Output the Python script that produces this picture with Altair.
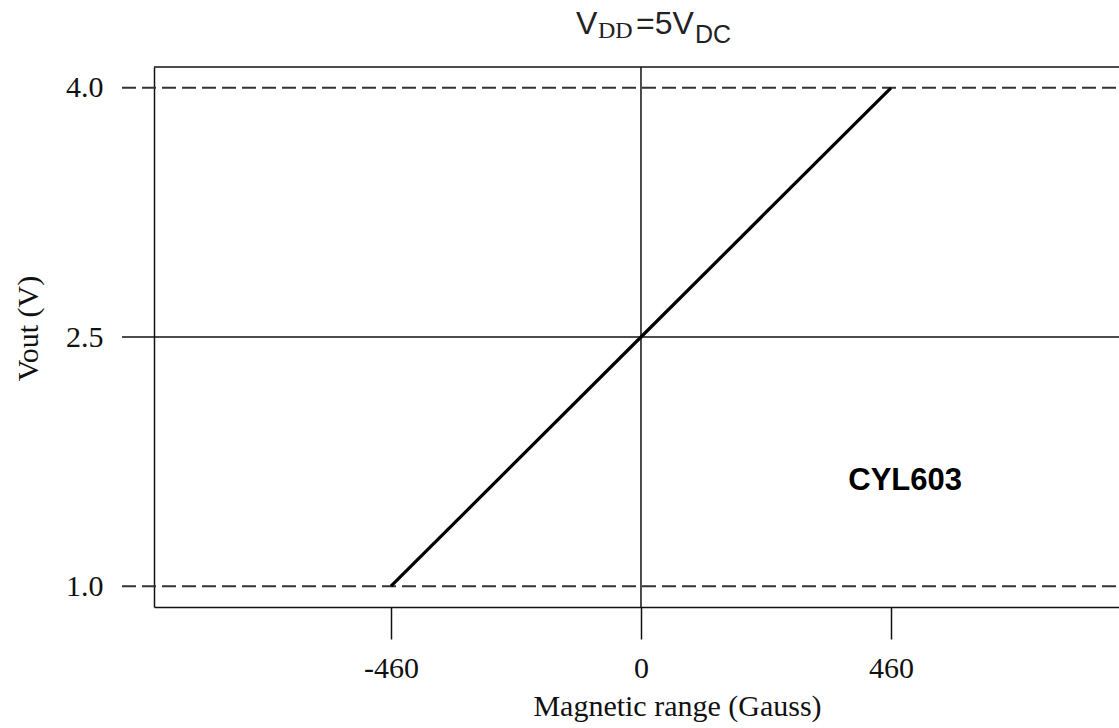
import altair as alt
import pandas as pd

# Transfer characteristic of the CYL603 linear Hall sensor at VDD = 5 VDC
field_gauss = [-460, 0, 460]
vout_v = [1.0, 2.5, 4.0]

# Reference output levels (saturation limits dashed, quiescent level solid)
dashed_levels = [1.0, 4.0]
solid_levels = [2.5]

x_ticks = [-460, 0, 460]
y_ticks = [1.0, 2.5, 4.0]

W, H = 965, 540
SERIF = "Liberation Serif"
SANS = "Liberation Sans"
INK = "#111111"

curve = pd.DataFrame({"gauss": field_gauss, "vout": vout_v})
dashed = pd.DataFrame({"level": dashed_levels})
solid = pd.DataFrame({"level": solid_levels})

x_scale = alt.Scale(domain=[-896, 879.5], nice=False, zero=False)
y_scale = alt.Scale(domain=[0.875, 4.125], nice=False, zero=False)

x_axis = alt.Axis(
    values=x_ticks, title="Magnetic range (Gauss)", grid=False,
    domainColor=INK, domainWidth=1.5, tickColor=INK, tickWidth=1.5, tickSize=32,
    labelFont=SERIF, labelFontSize=30, labelColor=INK, labelPadding=14,
    labelFlush=False, labelExpr="datum.value",
    titleFont=SERIF, titleFontSize=30, titleFontWeight="normal", titleColor=INK,
    titleX=523, titleY=108, titleAlign="center", titleBaseline="alphabetic",
)
y_axis = alt.Axis(
    values=y_ticks, title="Vout (V)", grid=False, format=".1f",
    domainColor=INK, domainWidth=1.5, ticks=False, tickSize=0,
    labelFont=SERIF, labelFontSize=30, labelColor=INK, labelPadding=51,
    labelBaseline="middle",
    titleFont=SERIF, titleFontSize=30, titleFontWeight="normal", titleColor=INK,
    titleAngle=-90, titleX=-117, titleY=261, titleAlign="center",
    titleBaseline="alphabetic",
)

# Sensor output line
line = alt.Chart(curve).mark_line(color="black", strokeWidth=3.2).encode(
    x=alt.X("gauss:Q", scale=x_scale, axis=x_axis),
    y=alt.Y("vout:Q", scale=y_scale, axis=y_axis),
)

# Limit lines, running out past the left frame as tick marks
dash_rules = alt.Chart(dashed).mark_rule(
    color="#333333", strokeWidth=2, strokeDash=[14, 6]
).encode(y=alt.Y("level:Q", scale=y_scale), x=alt.value(-32), x2=alt.value(W))

solid_rules = alt.Chart(solid).mark_rule(color=INK, strokeWidth=1.5).encode(
    y=alt.Y("level:Q", scale=y_scale), x=alt.value(-32), x2=alt.value(W)
)

# Zero-field axis line
zero_rule = alt.Chart(pd.DataFrame({"g": [0]})).mark_rule(
    color=INK, strokeWidth=1.5
).encode(x=alt.X("g:Q", scale=x_scale))

# Top frame edge
top_edge = alt.Chart(pd.DataFrame({"k": [0]})).mark_rule(
    color=INK, strokeWidth=1.5
).encode(y=alt.value(0), x=alt.value(0), x2=alt.value(W))

# Part number label
part = alt.Chart(pd.DataFrame({"gauss": [486], "vout": [1.58], "t": ["CYL603"]})).mark_text(
    font=SANS, fontSize=31, fontWeight="bold", color="black",
    align="center", baseline="alphabetic",
).encode(
    x=alt.X("gauss:Q", scale=x_scale),
    y=alt.Y("vout:Q", scale=y_scale),
    text="t:N",
)

# Heading V_DD = 5 V_DC built from pieces with subscripts
def piece(txt, x, y, font, size):
    return alt.Chart(pd.DataFrame({"t": [txt]})).mark_text(
        font=font, fontSize=size, color="#222222", align="left", baseline="alphabetic"
    ).encode(x=alt.value(x), y=alt.value(y), text="t:N")

heading = (
    piece("V", 422, -33, SANS, 32)
    + piece("DD", 444, -29, SERIF, 24)
    + piece("=5V", 482, -33, SANS, 32)
    + piece("DC", 541, -24, SANS, 25)
)

chart = (
    alt.layer(dash_rules, solid_rules, zero_rule, top_edge, line, part, heading)
    .properties(
        width=W, height=H,
        autosize=alt.AutoSizeParams(type="none"),
        padding={"left": 154, "top": 67, "right": 0, "bottom": 120},
        background="white",
    )
    .configure_view(stroke="transparent")
)

chart.save("out.html", embed_options={"renderer": "svg", "actions": False})
